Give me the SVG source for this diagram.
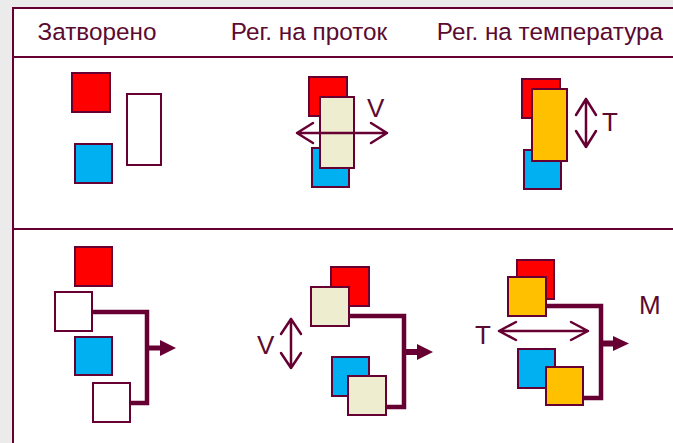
<svg xmlns="http://www.w3.org/2000/svg" width="673" height="443" viewBox="0 0 673 443">
<style>
.t{font-family:"Liberation Sans",Arial,sans-serif;fill:#5c0a30}
.h{font-size:24.3px;text-anchor:middle}
.l{font-size:26px}
.b{stroke:#660033;stroke-width:2}
.red{fill:#ff0000}
.blue{fill:#00b0f0}
.white{fill:#ffffff}
.beige{fill:#eeedcf}
.orange{fill:#ffc000}
.da{fill:none;stroke:#660033;stroke-width:2.5;stroke-linecap:round;stroke-linejoin:round}
.pipe{fill:none;stroke:#660033;stroke-width:4.5;stroke-linejoin:miter}
.ah{fill:#660033}
</style>
<rect x="0" y="0" width="673" height="443" fill="#ebebeb"/>
<rect id="frame" x="13" y="8" width="680" height="460" fill="#ffffff" stroke="#660033" stroke-width="2"/>
<line x1="13" y1="57" x2="673" y2="57" stroke="#660033" stroke-width="2"/>
<line x1="13" y1="229" x2="673" y2="229" stroke="#660033" stroke-width="2"/>
<g id="headers">
<text class="t h" x="97" y="39.5">Затворено</text>
<text class="t h" x="309" y="39.5">Рег. на проток</text>
<text class="t h" x="550" y="39.5">Рег. на температура</text>
</g>
<g id="closed-top">
<rect class="b red" x="72" y="73" width="38" height="39"/>
<rect class="b blue" x="75" y="144" width="37" height="39"/>
<rect class="b white" x="127" y="94" width="34" height="71"/>
</g>
<g id="flow-top">
<rect class="b red" x="309" y="77" width="38" height="39"/>
<rect class="b blue" x="312" y="148" width="37" height="39"/>
<rect class="b beige" x="320" y="97" width="34" height="71"/>
<path class="da" d="M297 133H387M313 123L297 133L313 143M371 123L387 133L371 143"/>
<text class="t l" x="367" y="117">V</text>
</g>
<g id="temp-top">
<rect class="b red" x="522" y="79" width="38" height="39"/>
<rect class="b blue" x="524" y="150" width="37" height="39"/>
<rect class="b orange" x="532" y="89" width="35" height="72"/>
<path class="da" d="M586 99V147M576 115L586 99L596 115M576 131L586 147L596 131"/>
<text class="t l" x="602" y="131">T</text>
</g>
<g id="connectors">
<path class="pipe" d="M92 312H147V403H130" stroke="#7a3558"/>
<path class="ah" d="M147 345.5H160V340L176 348L160 356V350.5H147Z"/>
<path class="pipe" d="M349 316H404V407H387"/>
<path class="ah" d="M404 349H417V344L433 352L417 360V355H404Z"/>
<path class="pipe" d="M546 306H601V398H583"/>
<path class="ah" d="M601 340.5H613V336L629 343.5L613 351V346.5H601Z"/>
</g>
<g id="closed-bottom">
<rect class="b red" x="75" y="247" width="37" height="39"/>
<rect class="b white" x="55" y="292" width="37" height="39"/>
<rect class="b blue" x="75" y="337" width="37" height="38"/>
<rect class="b white" x="93" y="383" width="37" height="39"/>
</g>
<g id="flow-bottom">
<rect class="b red" x="331" y="267" width="38" height="39"/>
<rect class="b beige" x="311" y="287" width="38" height="39"/>
<rect class="b blue" x="332" y="357" width="37" height="39"/>
<rect class="b beige" x="348" y="376" width="38" height="39"/>
<path class="da" d="M291 319V368M281 334L291 319L301 334M281 353L291 368L301 353"/>
<text class="t l" x="257" y="354">V</text>
</g>
<g id="temp-bottom">
<rect class="b red" x="517" y="260" width="37" height="39"/>
<rect class="b orange" x="508" y="277" width="38" height="39"/>
<rect class="b blue" x="518" y="349" width="37" height="39"/>
<rect class="b orange" x="546" y="367" width="37" height="38"/>
<path class="da" d="M499 331H588M516 322L499 331L516 340M571 322L588 331L571 340"/>
<text class="t l" x="475" y="344">T</text>
<text class="t l" x="639" y="314">M</text>
</g>
</svg>
